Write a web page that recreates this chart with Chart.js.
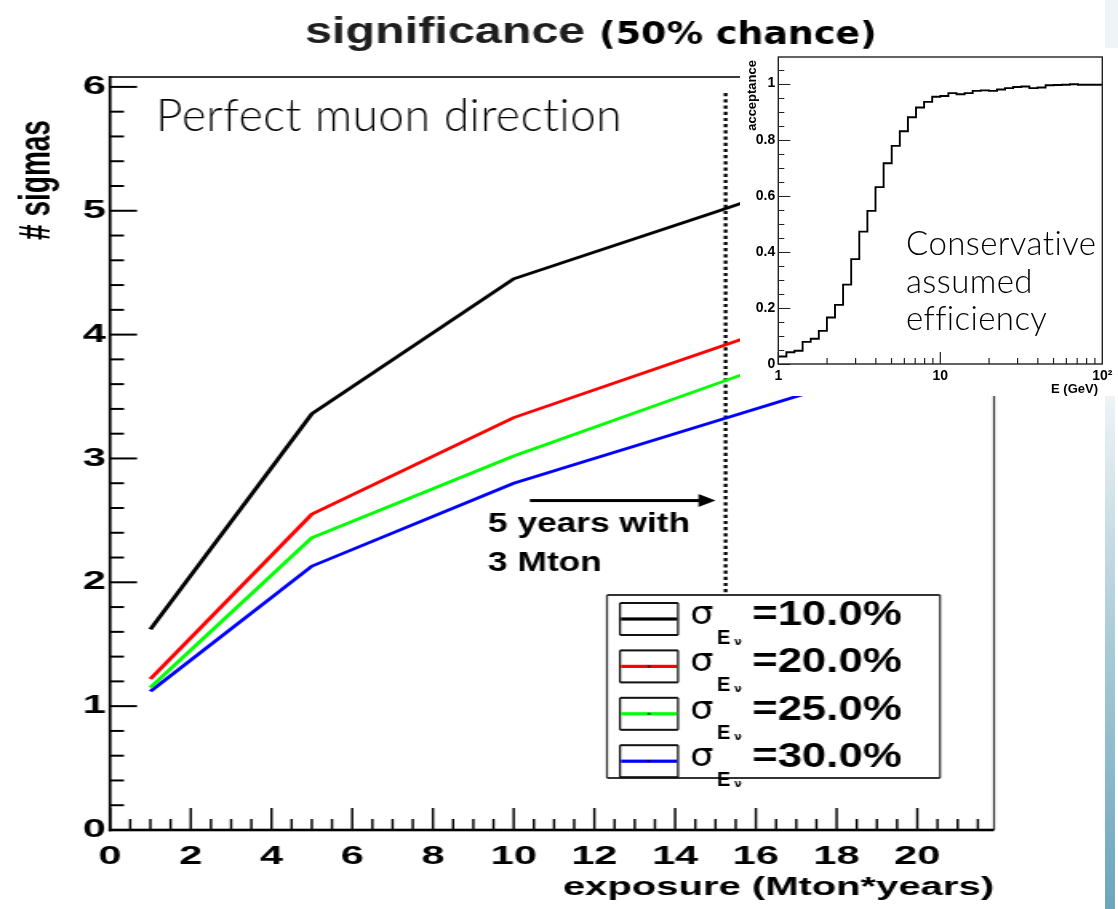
<!DOCTYPE html>
<html>
<head>
<meta charset="utf-8">
<script src="https://cdn.jsdelivr.net/npm/chart.js@4.4.1/dist/chart.umd.min.js"></script>
<style>
  html, body { margin: 0; padding: 0; background: #fff; }
  body { width: 1118px; height: 909px; position: relative; overflow: hidden; }
  #mainWrap { position: absolute; left: 0; top: 0; width: 699px; height: 909px;
              transform-origin: 0 0; transform: scaleX(1.599428); }
  #insetWrap { position: absolute; left: 740px; top: 53px; width: 378px; height: 343px; background: #fff; }
  .deco-top { position: absolute; left: 1105px; top: 0; width: 13px; height: 48px; background: #eef5f7; }
  .deco-side { position: absolute; left: 1105px; top: 396px; width: 10px; height: 513px;
               background: linear-gradient(#eef4f6, #b3d1dc 40%, #6ba5be); }
</style>
</head>
<body>
<div class="deco-top"></div>
<div class="deco-side"></div>
<div id="mainWrap"><canvas id="main" width="699" height="909"></canvas></div>
<div id="insetWrap"><canvas id="inset" width="378" height="343"></canvas></div>
<script>
// ---- significance vs exposure ----
const exposure = [1, 5, 10, 15, 20];              // Mton*years
const sigmaRes10 = [1.62, 3.36, 4.45, 4.99, 5.54];
const sigmaRes20 = [1.22, 2.55, 3.33, 3.89, 4.45];
const sigmaRes25 = [1.15, 2.36, 3.02, 3.60, 4.18];
const sigmaRes30 = [1.12, 2.13, 2.80, 3.30, 3.80];
const resolutionLabels = ['10.0%', '20.0%', '25.0%', '30.0%'];

const xTicks = [0, 2, 4, 6, 8, 10, 12, 14, 16, 18, 20];
const xTickLabels = ['0', '2', '4', '6', '8', '10', '12', '14', '16', '18', '20'];
const yTicks = [0, 1, 2, 3, 4, 5, 6];
const yTickLabels = ['0', '1', '2', '3', '4', '5', '6'];

const fiveYearExposure = 15.25;   // 5 years with 3 Mton

// ---- acceptance vs neutrino energy (40 log bins, 1-100 GeV) ----
const acceptance = [
  0.024, 0.027, 0.042, 0.047, 0.079, 0.090, 0.118, 0.166, 0.211, 0.283,
  0.374, 0.472, 0.546, 0.631, 0.716, 0.778, 0.830, 0.880, 0.915, 0.935,
  0.953, 0.956, 0.966, 0.962, 0.966, 0.974, 0.976, 0.974, 0.979, 0.984,
  0.988, 0.990, 0.984, 0.986, 0.994, 0.995, 0.996, 0.998, 0.996, 0.996
];
const accTicks = [0, 0.2, 0.4, 0.6, 0.8, 1];
const accTickLabels = ['0', '0.2', '0.4', '0.6', '0.8', '1'];
const energyTicks = [1, 10, 100];
const energyTickLabels = ['1', '10', '10\u00B2'];

// ---------------------------------------------------------------
const S = 1118 / 699;   // horizontal stretch applied to the main canvas
const SANS = '"Liberation Sans", Arial, Helvetica, sans-serif';
const LIGHT = 'Lato, "Open Sans", sans-serif';

function sText(ctx, text, x, y, font, stretch, opts = {}) {
  ctx.save();
  ctx.translate(x / S, y);
  ctx.scale(stretch / S, 1);
  if (opts.rotate) ctx.rotate(opts.rotate);
  ctx.font = font;
  ctx.fillStyle = opts.color || '#000';
  ctx.textAlign = opts.align || 'left';
  ctx.textBaseline = opts.baseline || 'alphabetic';
  if (opts.spacing) ctx.letterSpacing = opts.spacing;
  ctx.fillText(text, 0, 0);
  ctx.restore();
}
function hBar(ctx, x1, x2, y, w, color) {
  ctx.fillStyle = color;
  ctx.fillRect(x1 / S, y - w / 2, (x2 - x1) / S, w);
}
function vBar(ctx, x, y1, y2, w, color) {
  ctx.fillStyle = color;
  ctx.fillRect(x / S - w / (2 * S), y1, w / S, y2 - y1);
}

const series = [sigmaRes10, sigmaRes20, sigmaRes25, sigmaRes30];
const lineColors = ['#000000', '#ff0000', '#00ff00', '#0000ff'];

const mainDecor = {
  id: 'mainDecor',
  afterDatasetsDraw(chart) {
    const ctx = chart.ctx, a = chart.chartArea, xs = chart.scales.x, ys = chart.scales.y;
    const L = a.left * S, R = a.right * S, T = a.top, B = a.bottom;

    // frame
    hBar(ctx, L, R, T, 2, '#3a3a3a');
    vBar(ctx, R, T, B, 2, '#3a3a3a');
    vBar(ctx, L, T - 1, B + 1.3, 2.8, '#000');
    hBar(ctx, L - 1.4, R, B, 2.6, '#000');

    // inward tick marks
    for (let k = 0; k * 0.5 <= xs.max; k++) {
      const px = xs.getPixelForValue(k * 0.5) * S;
      const len = k % 4 === 0 ? 22 : 11;
      vBar(ctx, px, B - len, B, 2.3, '#000');
    }
    for (let k = 0; k * 0.2 <= ys.max + 1e-9; k++) {
      const py = ys.getPixelForValue(k * 0.2);
      const len = k % 5 === 0 ? 27 : 14;
      hBar(ctx, L, L + len, py, 2, '#000');
    }

    // arrow towards the 5-year marker
    const ax1 = xs.getPixelForValue(10.4) * S;
    const ax2 = xs.getPixelForValue(15.0) * S;
    const ay = ys.getPixelForValue(2.66);
    hBar(ctx, ax1, ax2 - 14, ay, 3, '#000');
    ctx.fillStyle = '#000';
    ctx.beginPath();
    ctx.moveTo(ax2 / S, ay);
    ctx.lineTo((ax2 - 17) / S, ay - 6.5);
    ctx.lineTo((ax2 - 17) / S, ay + 6.5);
    ctx.closePath();
    ctx.fill();
    sText(ctx, '5 years with', 488, 532, 'bold 28px ' + SANS, 1.26);
    sText(ctx, '3 Mton', 488, 571, 'bold 28px ' + SANS, 1.26);

    // legend
    const lx1 = 607, lx2 = 940, ly1 = 595, ly2 = 778;
    ctx.fillStyle = '#fff';
    ctx.fillRect(lx1 / S, ly1, (lx2 - lx1) / S, ly2 - ly1);
    hBar(ctx, lx1, lx2, ly1, 2, '#333');
    hBar(ctx, lx1, lx2, ly2, 2, '#333');
    vBar(ctx, lx1, ly1, ly2, 2, '#333');
    vBar(ctx, lx2, ly1, ly2, 2, '#333');
    resolutionLabels.forEach((lab, i) => {
      const cy = 619 + i * 47.4;
      hBar(ctx, 620, 678, cy - 16, 2, '#111');
      hBar(ctx, 620, 678, cy + 16, 2, '#111');
      vBar(ctx, 620, cy - 16, cy + 16, 2, '#111');
      vBar(ctx, 678, cy - 16, cy + 16, 2, '#111');
      hBar(ctx, 621, 677, cy, 3.2, lineColors[i]);
      if (i > 0) hBar(ctx, 648, 650, cy, 2, '#000');
      sText(ctx, '\u03C3', 690, cy + 5, '32px "DejaVu Sans", sans-serif', 1.15);
      sText(ctx, 'E', 717, cy + 25, 'bold 20px ' + SANS, 1.0);
      sText(ctx, '\u03BD', 734, cy + 26, 'bold 11px "DejaVu Sans", sans-serif', 1.0);
      sText(ctx, '=' + lab, 752, cy + 6, 'bold 35px ' + SANS, 1.25);
    });
  },
  afterDraw(chart) {
    const ctx = chart.ctx;
    // title
    sText(ctx, 'significance', 305, 43, 'bold 37px ' + SANS, 1.31, { color: '#1e1e1e' });
    sText(ctx, '(50% chance)', 599, 44, 'bold 32px "DejaVu Sans", sans-serif', 1.14);
    // y axis title
    sText(ctx, '# sigmas', 38, 180, 'bold 28px ' + SANS, 1.6,
          { rotate: -Math.PI / 2, align: 'center', baseline: 'middle' });
    // caption in the plot
    sText(ctx, 'Perfect muon direction', 156, 131, '300 46px ' + LIGHT, 1.0,
          { color: '#000', spacing: '0.6px' });
  }
};

const lineData = (vals, color) => ({
  data: exposure.map((x, i) => ({ x, y: vals[i] })),
  borderColor: color,
  borderWidth: 2.8,
  pointRadius: 0,
  tension: 0,
  fill: false
});

new Chart(document.getElementById('main'), {
  type: 'line',
  data: {
    datasets: [
      ...series.map((s, i) => lineData(s, lineColors[i])),
      {
        data: [{ x: fiveYearExposure, y: 5.95 }, { x: fiveYearExposure, y: 1.9 }],
        borderColor: '#000',
        borderWidth: 2.3,
        borderDash: [3.2, 3],
        pointRadius: 0
      }
    ]
  },
  options: {
    responsive: false,
    animation: false,
    devicePixelRatio: 1,
    layout: { padding: { left: 0, top: 77, right: 699 - 994 / S, bottom: 0 } },
    plugins: { legend: { display: false }, tooltip: { enabled: false }, title: { display: false } },
    scales: {
      x: {
        type: 'linear', min: 0, max: 21.9,
        afterBuildTicks: s => { s.ticks = xTicks.map(v => ({ value: v })); },
        afterFit: s => { s.height = 79; s.paddingLeft = 0; s.paddingRight = 0; },
        ticks: {
          callback: (v, i) => xTickLabels[i],
          font: { family: SANS, size: 26, weight: 'bold' },
          color: '#000', padding: 11, maxRotation: 0, autoSkip: false
        },
        grid: { display: false, drawTicks: false },
        border: { display: false },
        title: {
          display: true, text: 'exposure (Mton*years)', align: 'end', color: '#000',
          font: { family: SANS, size: 25, weight: 'bold' },
          padding: { top: 0, bottom: 6 }
        }
      },
      y: {
        type: 'linear', min: 0, max: 6.08,
        afterBuildTicks: s => { s.ticks = yTicks.map(v => ({ value: v })); },
        afterFit: s => { s.width = 110 / S; s.paddingTop = 0; s.paddingBottom = 0; },
        ticks: {
          callback: (v, i) => yTickLabels[i],
          font: { family: SANS, size: 26, weight: 'bold' },
          color: '#000', padding: 2.5, autoSkip: false
        },
        grid: { display: false, drawTicks: false },
        border: { display: false }
      }
    }
  },
  plugins: [mainDecor]
});

// ---------------- inset: acceptance ----------------
const binEdges = acceptance.map((_, i) => Math.pow(10, i / 20));
const accPoints = acceptance.map((v, i) => ({ x: binEdges[i], y: v }));
accPoints.push({ x: 100, y: acceptance[acceptance.length - 1] });

const insetDecor = {
  id: 'insetDecor',
  afterDatasetsDraw(chart) {
    const ctx = chart.ctx, a = chart.chartArea, xs = chart.scales.x, ys = chart.scales.y;
    ctx.save();
    ctx.strokeStyle = '#222';
    ctx.lineWidth = 1.4;
    ctx.strokeRect(a.left, a.top, a.right - a.left, a.bottom - a.top);
    ctx.lineWidth = 1.2;
    ctx.beginPath();
    for (let k = 0; k * 0.05 <= ys.max + 1e-9; k++) {
      const py = Math.round(ys.getPixelForValue(k * 0.05)) + 0.5;
      const len = k % 4 === 0 ? 12 : 6;
      ctx.moveTo(a.left, py); ctx.lineTo(a.left + len, py);
    }
    for (let d = 1; d <= 10; d *= 10) {
      for (let m = 1; m <= 9; m++) {
        const px = xs.getPixelForValue(m * d);
        const len = m === 1 ? 12 : 6;
        ctx.moveTo(px, a.bottom); ctx.lineTo(px, a.bottom - len);
      }
    }
    ctx.stroke();
    ctx.restore();
  },
  afterDraw(chart) {
    const ctx = chart.ctx;
    ctx.save();
    ctx.fillStyle = '#000';
    ctx.font = 'bold 13px ' + SANS;
    ctx.textAlign = 'right';
    ctx.textBaseline = 'alphabetic';
    ctx.fillText('E (GeV)', 358, 340);
    ctx.translate(16, 7);
    ctx.rotate(-Math.PI / 2);
    ctx.fillText('acceptance', 0, 0);
    ctx.restore();

    ctx.save();
    ctx.fillStyle = '#000';
    ctx.font = '300 33px ' + LIGHT;
    ctx.letterSpacing = '0.4px';
    ctx.textAlign = 'left';
    ctx.fillText('Conservative', 166, 202);
    ctx.fillText('assumed', 166, 240);
    ctx.fillText('efficiency', 166, 277);
    ctx.restore();
  }
};

new Chart(document.getElementById('inset'), {
  type: 'line',
  data: {
    datasets: [{
      data: accPoints,
      stepped: 'after',
      borderColor: '#000',
      borderWidth: 1.9,
      pointRadius: 0,
      fill: false
    }]
  },
  options: {
    responsive: false,
    animation: false,
    devicePixelRatio: 1,
    layout: { padding: { left: 0, top: 4, right: 15.7, bottom: 0 } },
    plugins: { legend: { display: false }, tooltip: { enabled: false } },
    scales: {
      x: {
        type: 'logarithmic', min: 1, max: 100,
        afterBuildTicks: s => { s.ticks = energyTicks.map(v => ({ value: v })); },
        afterFit: s => { s.height = 32; s.paddingLeft = 0; s.paddingRight = 0; },
        ticks: {
          callback: (v, i) => energyTickLabels[i],
          font: { family: SANS, size: 14, weight: 'bold' },
          color: '#000', padding: 4, maxRotation: 0, autoSkip: false
        },
        grid: { display: false, drawTicks: false },
        border: { display: false }
      },
      y: {
        type: 'linear', min: 0, max: 1.095,
        afterBuildTicks: s => { s.ticks = accTicks.map(v => ({ value: v })); },
        afterFit: s => { s.width = 38.3; s.paddingTop = 0; s.paddingBottom = 0; },
        ticks: {
          callback: (v, i) => accTickLabels[i],
          font: { family: SANS, size: 14, weight: 'bold' },
          color: '#000', padding: 3, autoSkip: false
        },
        grid: { display: false, drawTicks: false },
        border: { display: false }
      }
    }
  },
  plugins: [insetDecor]
});
</script>
</body>
</html>
